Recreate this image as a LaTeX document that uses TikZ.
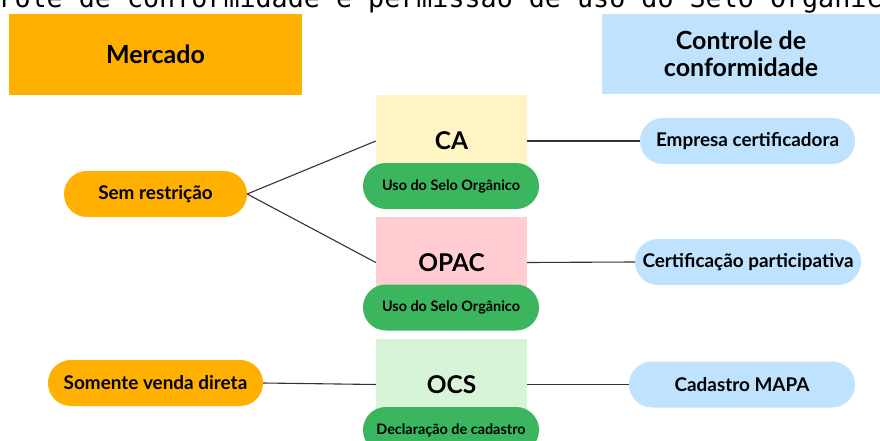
\documentclass[tikz,border=0pt]{standalone}
\usepackage{fontspec}
\setmainfont{Lato}
\newfontfamily\titlefont{DejaVu Sans Mono}
\definecolor{cOrange}{HTML}{FFB000}
\definecolor{cBlue}{HTML}{BFE3FE}
\definecolor{cYellow}{HTML}{FFF4C4}
\definecolor{cPink}{HTML}{FFCDD2}
\definecolor{cLgreen}{HTML}{D5F5D6}
\definecolor{cGreen}{HTML}{3BB65E}
\definecolor{cLine}{HTML}{333333}
\begin{document}
\begin{tikzpicture}[x=1pt,y=-1pt,
  header/.style={rectangle, fill=#1, inner sep=0pt, align=center,
    font=\bfseries\fontsize{25}{27}\selectfont},
  pill/.style={rectangle, rounded corners=22.9pt, fill=#1, inner sep=0pt,
    minimum height=46pt, font=\bfseries\fontsize{18.9}{21}\selectfont},
  gpill/.style={rectangle, rounded corners=22.9pt, fill=cGreen, inner sep=0pt,
    minimum height=46pt, minimum width=176pt, font=\bfseries\fontsize{14.4}{17}\selectfont},
  catbox/.style={rectangle, fill=#1, inner sep=0pt, minimum width=151pt,
    minimum height=91pt, font=\bfseries\fontsize{24.5}{27}\selectfont},
  link/.style={draw=cLine, line width=1.1pt}]
\useasboundingbox (0,0) rectangle (880,441);
\fill[white] (0,0) rectangle (880,441);
% title (cropped at the top)
\node[anchor=base west, inner sep=0pt, font=\titlefont\fontsize{26.7}{30}\selectfont] (title) at (-66,7.5) {Controle de conformidade e permissão de uso do Selo Orgânico};
% headers
\node[header=cOrange, minimum width=293pt, minimum height=81pt] (mercado) at (155.5,54.5) {Mercado};
\node[header=cBlue, minimum width=278pt, minimum height=80pt] (controle) at (741,54) {Controle de\\conformidade};
% category boxes
\node[catbox=cYellow] (ca) at (451.5,141) {CA};
\node[catbox=cPink] (opac) at (451.5,262.5) {OPAC};
\node[catbox=cLgreen] (ocs) at (451.5,384.5) {OCS};
% green pills
\node[gpill] (selo1) at (451,186) {Uso do Selo Orgânico};
\node[gpill] (selo2) at (451,307.5) {Uso do Selo Orgânico};
\node[gpill] (decl) at (451,430) {Declaração de cadastro};
% market pills
\node[pill=cOrange, minimum width=183pt] (sem) at (155.5,194) {Sem restrição};
\node[pill=cOrange, minimum width=215pt] (somente) at (155.5,383) {Somente venda direta};
% control pills
\node[pill=cBlue, minimum width=215pt] (empresa) at (747.5,141) {Empresa certificadora};
\node[pill=cBlue, minimum width=226pt] (cert) at (748,262) {Certificação participativa};
\node[pill=cBlue, minimum width=226pt] (cadastro) at (742,384.5) {Cadastro MAPA};
% connectors
\draw[link] (sem.east) -- (ca.west);
\draw[link] (sem.east) -- (opac.west);
\draw[link] (somente.east) -- (ocs.west);
\draw[link] (ca.east) -- (empresa.west);
\draw[link] (opac.east) -- (cert.west);
\draw[link] (ocs.east) -- (cadastro.west);
\end{tikzpicture}
\end{document}
